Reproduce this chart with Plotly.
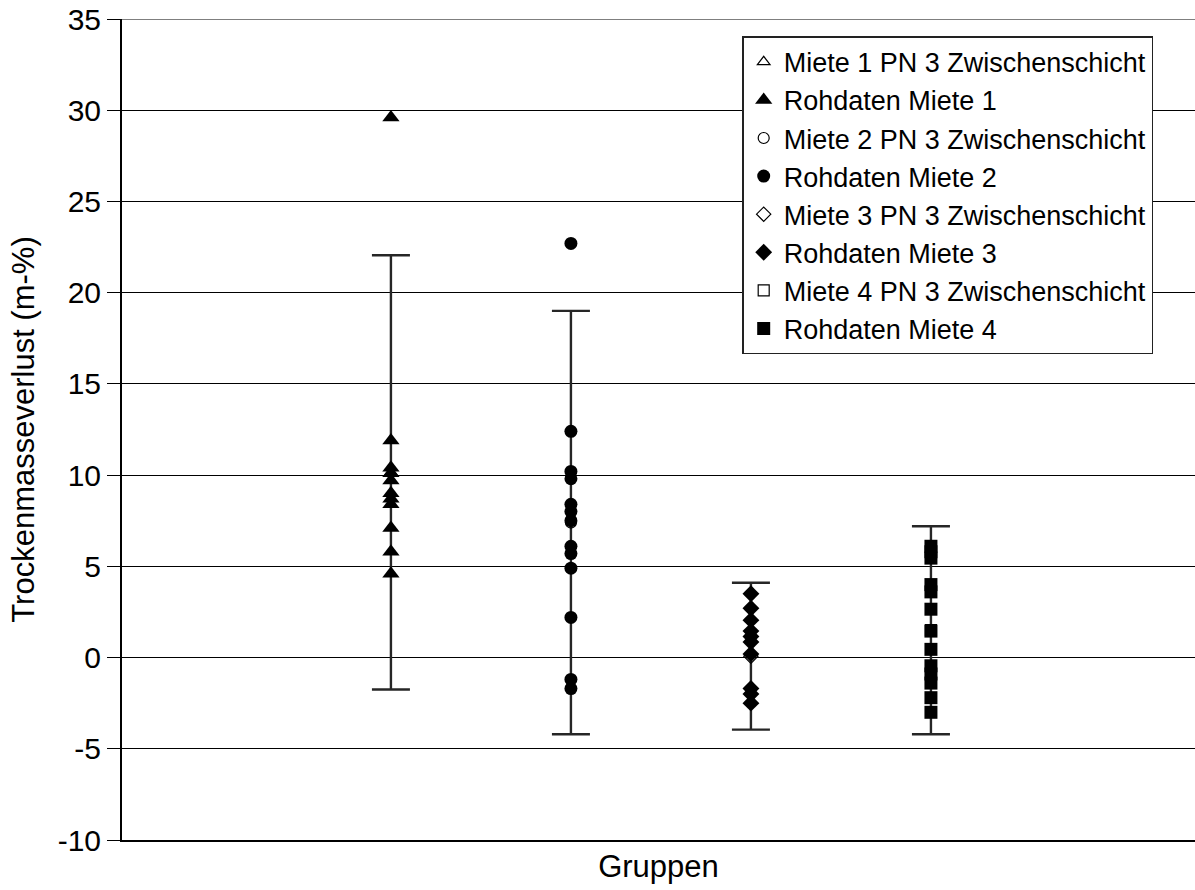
import plotly.graph_objects as go

# group positions on the x axis (Miete 1..4)
groups = [1, 2, 3, 4]

# raw values per Miete (m-%)
rohdaten_1 = [29.6, 11.9, 10.4, 10.1, 9.7, 9.0, 8.7, 8.4, 7.1, 5.8, 4.6]
rohdaten_2 = [22.7, 12.4, 10.2, 9.8, 8.4, 8.0, 7.5, 6.1, 5.7, 4.9, 2.2, -1.2, -1.7]
rohdaten_3 = [3.5, 2.7, 2.05, 1.45, 1.15, 0.85, 0.2, -1.7, -2.0, -2.5]
rohdaten_4 = [6.1, 5.8, 5.45, 4.0, 3.6, 2.65, 1.45, 0.45, -0.45, -0.9, -1.4, -2.2, -3.0]

# error bar upper / lower ends (PN 3 Zwischenschicht)
err_upper = [22.05, 19.0, 4.1, 7.2]
err_lower = [-1.75, -4.2, -3.95, -4.2]

# y axis ticks
tick_vals = [-10, -5, 0, 5, 10, 15, 20, 25, 30, 35]
tick_labels = ['-10', '-5', '0', '5', '10', '15', '20', '25', '30', '35']

names = ['Miete 1', 'Miete 2', 'Miete 3', 'Miete 4']
raw = [rohdaten_1, rohdaten_2, rohdaten_3, rohdaten_4]
open_symbols = ['triangle-up-open', 'circle-open', 'diamond-open', 'square-open']
filled_symbols = ['triangle-up', 'circle', 'diamond', 'square']
raw_sizes = [15, 13, 13, 13]

FONT = 'Liberation Sans, Arial, sans-serif'

fig = go.Figure()
for i, name in enumerate(names):
    mid = (err_upper[i] + err_lower[i]) / 2
    half = (err_upper[i] - err_lower[i]) / 2
    fig.add_trace(go.Scatter(
        x=[groups[i]], y=[mid], mode='markers',
        name=f'{name} PN 3 Zwischenschicht',
        marker=dict(symbol=open_symbols[i], size=11, color='black',
                    line=dict(width=1.2, color='black')),
        error_y=dict(type='data', array=[half], visible=True,
                     color='#262626', thickness=2.4, width=19),
    ))
    fig.add_trace(go.Scatter(
        x=[groups[i]] * len(raw[i]), y=raw[i], mode='markers',
        name=f'Rohdaten {name}',
        marker=dict(symbol=filled_symbols[i], size=raw_sizes[i], color='black',
                    line=dict(width=0)),
    ))

# top grid line at 35 (plotly drops the grid line on the plot edge)
fig.add_shape(type='line', xref='paper', x0=0, x1=1, yref='y', y0=35, y1=35,
              line=dict(color='black', width=1), layer='below')

fig.update_layout(
    width=1195, height=890,
    margin=dict(l=122, r=0, t=19, b=50),
    plot_bgcolor='white', paper_bgcolor='white',
    font=dict(family=FONT, size=27, color='black'),
    showlegend=True,
    legend=dict(x=0.578, y=0.979, xanchor='left', yanchor='top',
                bgcolor='white', bordercolor='#222222', borderwidth=1.5,
                font=dict(size=27), tracegroupgap=0, itemsizing='trace'),
)
fig.update_xaxes(
    range=[-0.494, 5.467], showticklabels=False, ticks='',
    showgrid=False, zeroline=False, automargin=False,
    showline=True, linecolor='black', linewidth=2,
    title=dict(text='Gruppen', font=dict(size=31), standoff=14),
)
fig.update_yaxes(
    range=[-10, 35], tickvals=tick_vals, ticktext=tick_labels,
    showgrid=True, gridcolor='black', gridwidth=1,
    zeroline=False, automargin=False,
    showline=True, linecolor='black', linewidth=2,
    ticks='outside', ticklen=13, tickwidth=1, tickcolor='black',
    tickfont=dict(size=30), ticklabeloverflow='allow',
    title=dict(text='Trockenmasseverlust (m-%)', font=dict(size=31), standoff=14),
)

# drop the default 8px body margin so the figure fills the window
fig.write_html("out.html", config={'displayModeBar': False},
               post_script="document.body.style.margin='0';")
